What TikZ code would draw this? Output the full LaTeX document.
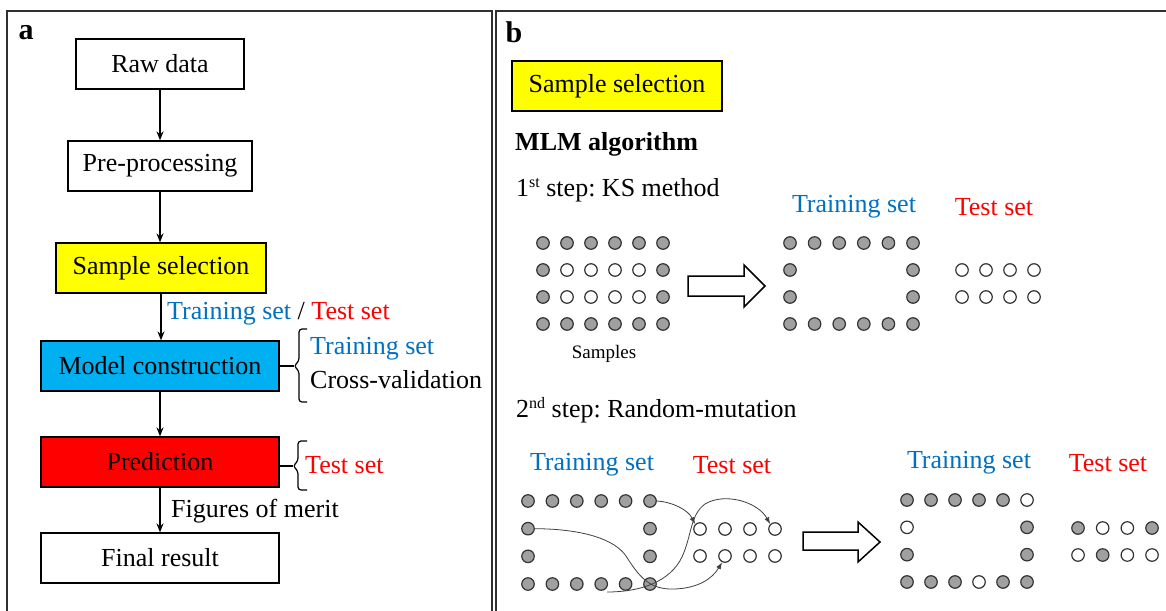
\documentclass[tikz,border=0pt]{standalone}
\usepackage{fontspec}
\setmainfont{Liberation Serif}
\usetikzlibrary{arrows.meta}

\definecolor{selyellow}{HTML}{FFFF00}
\definecolor{modcyan}{HTML}{00B0F0}
\definecolor{predred}{HTML}{FF0000}
\definecolor{trblue}{HTML}{0070C0}
\definecolor{tsred}{HTML}{FF0000}
\definecolor{dotgrey}{HTML}{A0A0A0}
\definecolor{framegrey}{HTML}{303030}

\newcommand{\sz}[1]{\fontsize{#1}{#1}\selectfont}
\newcommand{\ordsup}[1]{\raisebox{0.75ex}{\sz{16}#1}}
\frenchspacing

\begin{document}
\begin{tikzpicture}[x=1pt,y=-1pt,
  every node/.style={font=\sz{26}},
  box/.style={draw=black, line width=1.2pt, inner sep=0pt, minimum height=50pt},
  flow/.style={-{Stealth[length=9pt,width=7pt]}, line width=1.5pt},
  smp/.style={circle, draw=black!80, line width=1.2pt, minimum size=12.5pt, inner sep=0pt, fill=#1},
  smp/.default=dotgrey,
  txt/.style={anchor=west, inner sep=0pt},
  mut/.style={-{Latex[length=7pt,width=5pt]}, line width=0.8pt, draw=black!75},
  brace/.style={line width=1.2pt, rounded corners=3pt},
  blockarrow/.style={line width=1.5pt, fill=white, line join=miter},
  panel/.style={draw=framegrey, line width=1.5pt}
]
\clip (0,0) rectangle (1166,610);
\fill[white] (0,0) rectangle (1166,610);

% panel frames
\draw[panel] (7,11) rectangle (492,640);
\draw[panel] (496,11) rectangle (1190,640);

% ---------------- panel a: workflow ----------------
\node[font=\bfseries\sz{30}] (la) at (26,33) {a};

\node[box, minimum width=168pt] (raw) at (160,64) {Raw data};
\node[box, minimum width=184pt] (pre) at (160,166) {Pre-processing};
\node[box, minimum width=210pt, fill=selyellow] (sel) at (161,268) {Sample selection};
\node[box, minimum width=238pt, fill=modcyan] (model) at (160,366) {Model construction};
\node[box, minimum width=238pt, fill=predred] (pred) at (160,462) {Prediction};
\node[box, minimum width=238pt] (final) at (160,558) {Final result};

\draw[flow] (raw.south) -- (pre.north);
\draw[flow] (pre.south) -- (pre.south |- sel.north);
\draw[flow] (sel.south) -- (sel.south |- model.north);
\draw[flow] (model.south) -- (pred.north);
\draw[flow] (pred.south) -- (final.north);

\node[txt] (split) at (167,314) {\textcolor{trblue}{Training set} / \textcolor{tsred}{Test set}};
\node[txt] (fom) at (171,511) {Figures of merit};

% brace next to model construction
\coordinate (bm) at (294,366);
\draw[line width=1.2pt] (model.east) -- (bm);
\draw[brace] (307,329) -- (299,329) -- (299,361) -- (bm) -- (299,371) -- (299,402) -- (307,402);
\node[txt, text=trblue] (mtr) at (310,349) {Training set};
\node[txt] (mcv) at (310,380) {Cross-validation};

% brace next to prediction
\coordinate (bp) at (293,466);
\draw[line width=1.2pt] (pred.east |- bp) -- (bp);
\draw[brace] (307,441) -- (298,441) -- (298,461) -- (bp) -- (298,471) -- (298,490) -- (307,490);
\node[txt, text=tsred] (pts) at (305,465) {Test set};

% ---------------- panel b: sample selection ----------------
\node[font=\bfseries\sz{30}] (lb) at (514,32) {b};
\node[box, minimum width=210pt, fill=selyellow] (sel2) at (617,86) {Sample selection};
\node[txt, font=\bfseries\sz{26}] (mlm) at (515,144) {MLM algorithm};

% step 1: KS method
\node[txt] (step1) at (516,190) {1\ordsup{st} step: KS method};
\node[font=\sz{26}, text=trblue] (tr1) at (854,207) {Training set};
\node[font=\sz{26}, text=tsred] (ts1) at (994,207) {Test set};

\foreach \r in {1,...,4}
  \foreach \c in {1,...,6} {
    \pgfmathtruncatemacro\inn{(\r>1)&&(\r<4)&&(\c>1)&&(\c<6)}
    \ifnum\inn=1
      \node[smp=white] (s-\r-\c) at ({543+24*(\c-1)},{243+27*(\r-1)}) {};
    \else
      \node[smp] (s-\r-\c) at ({543+24*(\c-1)},{243+27*(\r-1)}) {};
      \node[smp] (k-\r-\c) at ({790+24.6*(\c-1)},{243+27*(\r-1)}) {};
    \fi
  }
\foreach \r in {1,2}
  \foreach \c in {1,...,4}
    \node[smp=white] (kt-\r-\c) at ({962+24*(\c-1)},{270+27*(\r-1)}) {};

\node[font=\sz{19}] (samples) at (604,354) {Samples};

\draw[blockarrow] (688,276) -- (744,276) -- (744,265) -- (765,286) -- (744,307) -- (744,296) -- (688,296) -- cycle;

% step 2: random mutation
\node[txt] (step2) at (516,410) {2\ordsup{nd} step: Random-mutation};
\node[text=trblue] (tr2) at (592,465) {Training set};
\node[text=tsred] (ts2) at (732,465) {Test set};
\node[text=trblue] (tr3) at (969,463) {Training set};
\node[text=tsred] (ts3) at (1108,463) {Test set};

\foreach \r in {1,...,4}
  \foreach \c in {1,...,6} {
    \pgfmathtruncatemacro\inn{(\r>1)&&(\r<4)&&(\c>1)&&(\c<6)}
    \pgfmathtruncatemacro\wht{((\r==1)&&(\c==6))||((\r==2)&&(\c==1))||((\r==4)&&(\c==4))}
    \ifnum\inn=0
      \node[smp] (m-\r-\c) at ({528+24.4*(\c-1)},{501+27.67*(\r-1)}) {};
      \ifnum\wht=1
        \node[smp=white] (f-\r-\c) at ({907+24*(\c-1)},{500+27.33*(\r-1)}) {};
      \else
        \node[smp] (f-\r-\c) at ({907+24*(\c-1)},{500+27.33*(\r-1)}) {};
      \fi
    \fi
  }
\foreach \r in {1,2}
  \foreach \c in {1,...,4}
    \node[smp=white] (mt-\r-\c) at ({700+25*(\c-1)},{529+27*(\r-1)}) {};

\foreach \r/\c/\f in {1/1/dotgrey,1/2/white,1/3/white,1/4/dotgrey,
                      2/1/white,2/2/dotgrey,2/3/white,2/4/white}
  \node[smp=\f] (ft-\r-\c) at ({1078+24.67*(\c-1)},{528+27*(\r-1)}) {};

% exchanged samples
\coordinate (swapstart) at (607,592);
\draw[mut] (m-1-6.east) .. controls (673,502) and (688,510) .. (mt-1-1.north west);
\draw[mut] (swapstart) .. controls (640,592) and (670,582) .. (682,557)
  .. controls (692,535) and (690,515) .. (705,504)
  .. controls (725,492) and (758,502) .. (mt-1-4.north west);
\draw[mut] (m-2-1.east) .. controls (585,529) and (615,540) .. (626,556)
  .. controls (640,578) and (650,590) .. (675,589)
  .. controls (698,588) and (712,579) .. (mt-2-2.245);

\draw[blockarrow] (803,532) -- (858,532) -- (858,522) -- (880,542) -- (858,562) -- (858,550) -- (803,550) -- cycle;
\end{tikzpicture}
\end{document}
